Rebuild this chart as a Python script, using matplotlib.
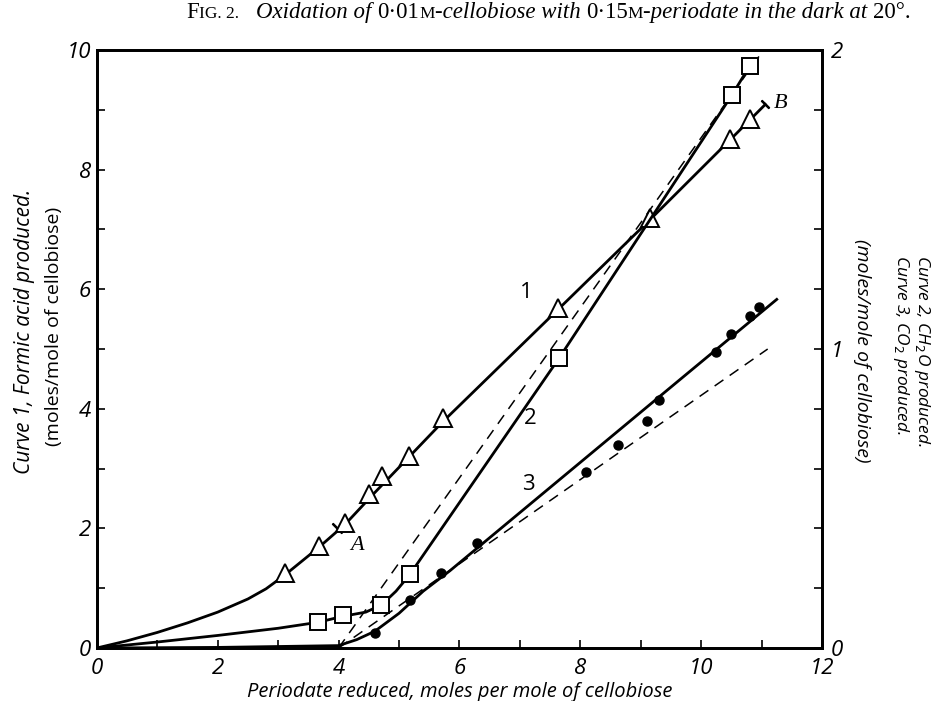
import matplotlib
matplotlib.use("Agg")
import matplotlib.pyplot as plt

# Curve 1: formic acid (left axis, moles/mole)
tri_x = [3.11, 3.67, 4.11, 4.50, 4.72, 5.17, 5.72, 7.63, 9.16, 10.48, 10.80]
tri_y = [1.26, 1.70, 2.09, 2.57, 2.87, 3.21, 3.85, 5.68, 7.19, 8.51, 8.85]
c1_x = [0, 0.5, 1, 1.5, 2, 2.5, 2.8, 3.11, 3.67, 4.11, 4.6, 5.17, 5.72, 7.63, 9.16, 10.48, 11.06]
c1_y = [0, 0.12, 0.26, 0.42, 0.60, 0.82, 0.99, 1.22, 1.68, 2.07, 2.60, 3.20, 3.78, 5.66, 7.17, 8.50, 9.09]

# Curve 2: CH2O (right axis)
sq_x = [3.66, 4.07, 4.71, 5.18, 7.65, 10.51, 10.80]
sq_y = [0.086, 0.112, 0.144, 0.246, 0.97, 1.85, 1.946]
c2_x = [0, 1, 2, 3, 3.66, 4.07, 4.45, 4.71, 4.95, 5.18, 7.65, 10.51, 10.80]
c2_y = [0, 0.02, 0.042, 0.066, 0.086, 0.106, 0.12, 0.144, 0.19, 0.246, 0.97, 1.85, 1.946]

# Curve 3: CO2 (right axis)
dot_x = [4.60, 5.18, 5.69, 6.29, 8.10, 8.62, 9.11, 9.31, 10.25, 10.50, 10.80, 10.95]
dot_y = [0.05, 0.16, 0.25, 0.35, 0.59, 0.68, 0.76, 0.83, 0.99, 1.05, 1.11, 1.14]
c3_x = [0, 2, 4, 4.3, 4.6, 5.0, 5.4, 5.84, 9.65, 11.25]
c3_y = [0, 0.002, 0.008, 0.028, 0.056, 0.116, 0.19, 0.258, 0.898, 1.166]

# theoretical (dashed) lines, right axis
d2_x = [4.0, 11.03]
d2_y = [0.0, 2.0]
d3_x = [4.0, 11.1]
d3_y = [0.0, 1.0]

X_TICKS = [0, 2, 4, 6, 8, 10, 12]
Y_TICKS = [0, 2, 4, 6, 8, 10]

SANS = ["Open Sans", "DejaVu Sans"]
SERIF = ["Liberation Serif", "DejaVu Serif"]

fig = plt.figure(figsize=(9.31, 7.01), dpi=100)
ax = fig.add_axes([0.104, 0.0756, 0.779, 0.853])
ax2 = ax.twinx()

lw = 2.0
ax.plot(c1_x, c1_y, color="black", lw=lw, zorder=2)
ax.plot(tri_x, tri_y, linestyle="none", marker="^", ms=13, mfc="white",
        mec="black", mew=1.4, zorder=3)
# marks A and B
ax.plot([3.97], [2.01], linestyle="none", marker=(2, 2, 45), ms=10,
        mec="black", mew=1.6)
ax.plot([11.06], [9.09], linestyle="none", marker=(2, 2, 45), ms=8,
        mec="black", mew=1.6)

ax2.plot(d2_x, d2_y, color="black", lw=1.1, ls=(0, (7, 5)), zorder=1)
ax2.plot(d3_x, d3_y, color="black", lw=1.1, ls=(0, (7, 5)), zorder=1)
ax2.plot(c2_x, c2_y, color="black", lw=lw, zorder=2)
ax2.plot(sq_x, sq_y, linestyle="none", marker="s", ms=11, mfc="white",
         mec="black", mew=1.4, zorder=3)
ax2.plot(c3_x, c3_y, color="black", lw=lw, zorder=2)
ax2.plot(dot_x, dot_y, linestyle="none", marker="o", ms=6.5, color="black", zorder=3)

ax.set_xlim(0, 12)
ax.set_ylim(0, 10)
ax2.set_ylim(0, 2)

ax.set_xticks(X_TICKS)
ax.set_xticks(range(0, 13), minor=True)
ax.set_yticks(Y_TICKS)
ax.set_yticks(range(0, 11), minor=True)
ax2.set_yticks([0, 1, 2])
ax2.set_yticks([i / 5 for i in range(11)], minor=True)

for a in (ax, ax2):
    for s in a.spines.values():
        s.set_linewidth(2)
    a.tick_params(which="both", direction="in", width=1.2)
    a.tick_params(which="major", length=6)
    a.tick_params(which="minor", length=6)

ax.set_xticklabels([str(v) for v in X_TICKS], family=SANS, style="italic",
                   fontsize=16)
ax.set_yticklabels([str(v) for v in Y_TICKS], family=SANS, style="italic",
                   fontsize=16)
ax2.set_yticklabels(["0", "1", "2"], family=SANS, style="italic", fontsize=16)
ax.tick_params(axis="x", pad=7)
ax.tick_params(axis="y", pad=4)
ax2.tick_params(axis="y", pad=6)

ax.set_xlabel("Periodate reduced, moles per mole of cellobiose", family=SANS,
              style="italic", fontsize=14.5, labelpad=2)

# left axis label
fig.text(0.026, 0.527, "Curve 1, Formic acid produced.", rotation=90,
         family=SANS, style="italic", fontsize=15, ha="center", va="center")
fig.text(0.058, 0.535, "(moles/mole of cellobiose)", rotation=90,
         family=SANS, fontsize=14, ha="center", va="center")

# right axis label
fig.text(0.979, 0.50, "Curve 2, CH$_2$O produced.\nCurve 3, CO$_2$ produced.",
         rotation=270, family=SANS, style="italic", fontsize=12.5,
         ha="center", va="center", linespacing=1.05, multialignment="left")
fig.text(0.926, 0.50, "(moles/mole of cellobiose)", rotation=270,
         family=SANS, style="italic", fontsize=14, ha="center", va="center")

# curve numbers
ax.text(7.1, 5.95, "1", family=SANS, fontsize=16, ha="center", va="center")
ax.text(7.17, 3.83, "2", family=SANS, fontsize=16, ha="center", va="center")
ax.text(7.14, 2.73, "3", family=SANS, fontsize=16, ha="center", va="center")
ax.text(4.3, 1.72, "A", family=SERIF, style="italic", fontsize=16,
        ha="center", va="center")
ax.text(11.32, 9.1, "B", family=SERIF, style="italic", fontsize=16,
        ha="center", va="center")

# title, set piece by piece (small capitals faked with smaller size)
pieces = [
    ("F", "normal", 16.5), ("IG. 2.", "normal", 12.5), ("   ", "normal", 16.5),
    ("Oxidation of ", "italic", 16.5), ("0·01", "normal", 16.5),
    ("M", "normal", 12.5), ("-cellobiose with ", "italic", 16.5),
    ("0·15", "normal", 16.5), ("M", "normal", 12.5),
    ("-periodate in the dark at ", "italic", 16.5), ("20°.", "normal", 16.5),
]
fig.canvas.draw()
renderer = fig.canvas.get_renderer()
x0 = 0.2
for txt, style, size in pieces:
    t = fig.text(x0, 0.974, txt, family=SERIF, style=style, fontsize=size,
                 ha="left", va="baseline")
    bb = t.get_window_extent(renderer)
    x0 += bb.width / fig.bbox.width

fig.savefig("out.png", dpi=100)
